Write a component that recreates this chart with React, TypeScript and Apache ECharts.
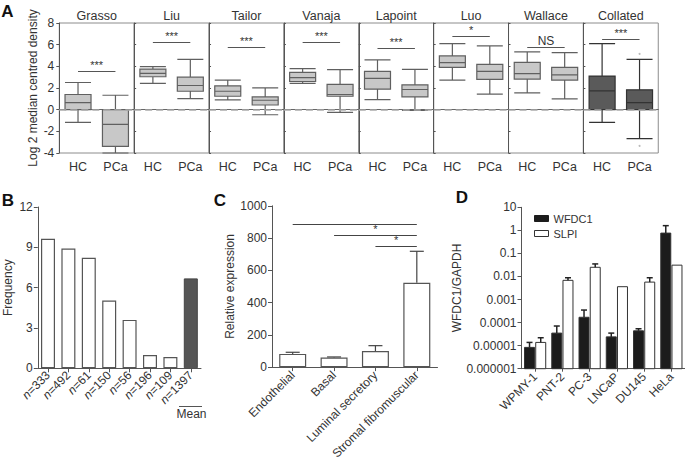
import React, { useEffect, useRef } from 'react';
import * as echarts from 'echarts';

// ---------- DATA ----------
// Panel A
const studies = ['Grasso', 'Liu', 'Tailor', 'Vanaja', 'Lapoint', 'Luo', 'Wallace', 'Collated'];
const groups = ['HC', 'PCa'];
// [min, Q1, median, Q3, max]
const hcBoxes = [
  [-1.18, 0, 0.65, 1.4, 2.51],
  [2.42, 3.04, 3.35, 3.75, 3.97],
  [0.9, 1.24, 1.7, 2.2, 2.73],
  [2.42, 2.6, 2.95, 3.44, 3.78],
  [0.93, 1.89, 2.88, 3.53, 4.59],
  [2.73, 3.9, 4.34, 4.96, 6.1],
  [1.55, 2.82, 3.32, 4.37, 5.33],
  [-1.18, 0, 1.74, 3.1, 6.1],
];
const pcaBoxes = [
  [-4.0, -3.38, -1.36, 0, 1.33],
  [1.02, 1.7, 2.23, 3.0, 4.65],
  [-0.47, 0.43, 0.87, 1.18, 2.02],
  [-0.25, 1.24, 1.4, 2.33, 3.69],
  [-0.06, 1.18, 1.86, 2.29, 3.72],
  [1.43, 2.79, 3.53, 4.19, 5.89],
  [0.99, 2.73, 3.22, 3.91, 5.27],
  [-2.67, 0, 0.65, 1.83, 4.65],
];
const sigLabels = ['***', '***', '***', '***', '***', '*', 'NS', '***'];
const sigLevels = [3.53, 6.2, 5.74, 6.2, 5.67, 6.76, 5.77, 6.51];
const collatedOutliers = [5.15, -3.35];

// Panel B
const sampleSizes = ['333', '492', '61', '150', '56', '196', '109', '1397'];
const frequencies = [9.63, 8.91, 8.22, 5.04, 3.6, 0.99, 0.84, 6.69];

// Panel C
const cellTypes = ['Endothelial', 'Basal', 'Luminal secretory', 'Stromal fibromuscular'];
const relExpression = [82, 59, 100, 523];
const relExpressionUpper = [92, 63, 133, 718];
const cSigLines = [
  { from: 'Endothelial', level: 885, label: '' },
  { from: 'Basal', level: 816, label: '*' },
  { from: 'Luminal secretory', level: 748, label: '*' },
];

// Panel D
const cellLines = ['WPMY-1', 'PNT-2', 'PC-3', 'LNCaP', 'DU145', 'HeLa'];
const wfdc1 = [8.4e-6, 3.5e-5, 1.7e-4, 2.4e-5, 4.4e-5, 0.76];
const wfdc1Upper = [1.38e-5, 7.1e-5, 3.5e-4, 3.5e-5, 5.4e-5, 1.6];
const slpi = [1.38e-5, 6.8e-3, 2.5e-2, 3.6e-3, 5.7e-3, 3.1e-2];
const slpiUpper = [2.2e-5, 8.8e-3, 3.5e-2, 3.6e-3, 8.8e-3, 3.1e-2];

// ---------- STYLE ----------
const FONT = '"Liberation Sans", Arial, Helvetica, sans-serif';
const TXT = '#333';
const AXIS = '#555';

function buildOption() {
  const grid: any[] = [];
  const xAxis: any[] = [];
  const yAxis: any[] = [];
  const series: any[] = [];
  const graphic: any[] = [];

  const aLeft = 59.3, aW = 74.87, aTop = 23, aH = 130;

  studies.forEach((name, i) => {
    const collated = i === studies.length - 1;
    grid.push({ left: aLeft + i * aW, top: aTop, width: aW, height: aH, show: true, borderColor: '#8c8c8c', borderWidth: 1 });
    xAxis.push({
      gridIndex: i, type: 'category', data: groups,
      axisLine: { show: true, lineStyle: { color: '#666' } },
      axisTick: { show: false },
      axisLabel: { fontSize: 12.5, color: TXT, fontFamily: FONT, margin: 7 },
    });
    yAxis.push({
      gridIndex: i, type: 'value', min: -4, max: 8, interval: 2,
      axisLine: { show: true, lineStyle: { color: AXIS } },
      axisTick: { show: true, inside: i > 0, length: i > 0 ? 2 : 3, lineStyle: { color: AXIS } },
      axisLabel: { show: i === 0, fontSize: 12, color: TXT, fontFamily: FONT, margin: 5 },
      splitLine: { show: false },
      name: i === 0 ? 'Log 2 median centred density' : '',
      nameLocation: 'middle', nameGap: 20,
      nameTextStyle: { fontSize: 12, color: TXT, fontFamily: FONT },
    });
    series.push({
      type: 'boxplot', xAxisIndex: i, yAxisIndex: i,
      data: [hcBoxes[i], pcaBoxes[i]],
      boxWidth: [26, 26],
      itemStyle: collated
        ? { color: '#5a5a5a', borderColor: '#333', borderWidth: 1.2 }
        : { color: '#c8c8c8', borderColor: '#606060', borderWidth: 1.2 },
      markLine: {
        silent: true, symbol: ['none', 'none'], animation: false,
        data: [
          { yAxis: 0, lineStyle: { type: [7, 4], color: '#aaa', width: 1.5 }, label: { show: false } },
          [
            {
              coord: ['HC', sigLevels[i]],
              lineStyle: { type: 'solid', color: '#555', width: 1 },
              label: {
                show: true, position: 'insideMiddleTop', distance: sigLabels[i] === 'NS' ? 0 : 1,
                formatter: sigLabels[i], color: TXT, fontFamily: FONT,
                fontSize: sigLabels[i] === 'NS' ? 12 : 11,
              },
            },
            { coord: ['PCa', sigLevels[i]] },
          ],
        ],
      },
    });
    if (collated) {
      series.push({
        type: 'scatter', xAxisIndex: i, yAxisIndex: i,
        data: collatedOutliers.map((v) => ['PCa', v]),
        symbolSize: 2, itemStyle: { color: '#aaa' },
      });
    }
    graphic.push({
      type: 'text', x: aLeft + (i + 0.5) * aW, y: 15.5,
      style: { text: name, fontSize: 12.5, fontFamily: FONT, fill: TXT, align: 'center', verticalAlign: 'middle', textAlign: 'center', textVerticalAlign: 'middle' },
    });
  });

  // ----- Panel B -----
  const bi = grid.length;
  grid.push({ left: 37.8, top: 207, width: 163.2, height: 161.3 });
  xAxis.push({
    gridIndex: bi, type: 'category', data: sampleSizes,
    axisLine: { show: true, lineStyle: { color: AXIS } },
    axisTick: { show: true, alignWithLabel: true, length: 4, lineStyle: { color: AXIS } },
    axisLabel: {
      rotate: 45, margin: 5, fontSize: 12, color: TXT, fontFamily: FONT, interval: 0,
      formatter: (v: string) => `{i|n}{r|=${v}}`,
      rich: {
        i: { fontStyle: 'italic', fontSize: 12, color: TXT, fontFamily: FONT },
        r: { fontSize: 12, color: TXT, fontFamily: FONT },
      },
    },
  });
  yAxis.push({
    gridIndex: bi, type: 'value', min: 0, max: 12, interval: 3,
    axisLine: { show: true, lineStyle: { color: AXIS } },
    axisTick: { show: true, length: 4, lineStyle: { color: AXIS } },
    axisLabel: { fontSize: 12, color: TXT, fontFamily: FONT, margin: 5 },
    splitLine: { show: false },
    name: 'Frequency', nameLocation: 'middle', nameGap: 24,
    nameTextStyle: { fontSize: 12, color: TXT, fontFamily: FONT },
  });
  series.push({
    type: 'bar', xAxisIndex: bi, yAxisIndex: bi, barWidth: 14,
    data: frequencies.map((v, k) => ({
      value: v,
      itemStyle: k === frequencies.length - 1
        ? { color: '#555', borderColor: '#444', borderWidth: 1 }
        : { color: '#fff', borderColor: '#555', borderWidth: 1.2 },
    })),
  });
  graphic.push(
    { type: 'line', shape: { x1: 179, y1: 406.5, x2: 202, y2: 406.5 }, style: { stroke: '#555', lineWidth: 1 } },
    { type: 'text', x: 191.5, y: 414, style: { text: 'Mean', fontSize: 12, fontFamily: FONT, fill: TXT, align: 'center', verticalAlign: 'middle', textAlign: 'center', textVerticalAlign: 'middle' } },
  );

  // ----- Panel C -----
  const ci = grid.length;
  grid.push({ left: 272, top: 205.8, width: 165.5, height: 162.9 });
  xAxis.push({
    gridIndex: ci, type: 'category', data: cellTypes,
    axisLine: { show: true, lineStyle: { color: AXIS } },
    axisTick: { show: true, alignWithLabel: true, length: 4, lineStyle: { color: AXIS } },
    axisLabel: { rotate: 45, margin: 6, fontSize: 12, color: TXT, fontFamily: FONT, interval: 0 },
  });
  yAxis.push({
    gridIndex: ci, type: 'value', min: 0, max: 1000, interval: 200,
    axisLine: { show: true, lineStyle: { color: AXIS } },
    axisTick: { show: true, length: 4, lineStyle: { color: AXIS } },
    axisLabel: { fontSize: 12, color: TXT, fontFamily: FONT, margin: 5, formatter: (v: number) => String(v) },
    splitLine: { show: false },
    name: 'Relative expression', nameLocation: 'middle', nameGap: 36,
    nameTextStyle: { fontSize: 12, color: TXT, fontFamily: FONT },
  });
  series.push({
    type: 'bar', xAxisIndex: ci, yAxisIndex: ci, barWidth: 27,
    itemStyle: { color: '#fff', borderColor: '#555', borderWidth: 1.2 },
    data: relExpression,
    markLine: {
      silent: true, symbol: ['none', 'none'], animation: false,
      data: cSigLines.map((s) => [
        {
          coord: [s.from, s.level],
          lineStyle: { type: 'solid', color: '#444', width: 1 },
          label: { show: s.label !== '', position: 'insideMiddleTop', distance: 1, formatter: s.label || ' ', color: TXT, fontSize: 11, fontFamily: FONT },
        },
        { coord: ['Stromal fibromuscular', s.level] },
      ]),
    },
  });
  series.push({
    type: 'custom', xAxisIndex: ci, yAxisIndex: ci,
    data: cellTypes.map((_, k) => [k, relExpression[k], relExpressionUpper[k]]),
    encode: { x: 0, y: 1 },
    renderItem: (params: any, api: any) => {
      const k = api.value(0), v = api.value(1), e = api.value(2);
      const p0 = api.coord([k, v]);
      const p1 = api.coord([k, e]);
      const cap = 7;
      return {
        type: 'group',
        children: [
          { type: 'line', shape: { x1: p0[0], y1: p0[1], x2: p1[0], y2: p1[1] }, style: { stroke: '#444', lineWidth: 1.2 } },
          { type: 'line', shape: { x1: p1[0] - cap, y1: p1[1], x2: p1[0] + cap, y2: p1[1] }, style: { stroke: '#444', lineWidth: 1.2 } },
        ],
      };
    },
  });

  // ----- Panel D -----
  const di = grid.length;
  grid.push({ left: 521.5, top: 207.3, width: 164, height: 161.4 });
  xAxis.push({
    gridIndex: di, type: 'category', data: cellLines,
    axisLine: { show: true, lineStyle: { color: AXIS } },
    axisTick: { show: true, alignWithLabel: true, length: 3, lineStyle: { color: AXIS } },
    axisLabel: { rotate: 45, margin: 6, fontSize: 12, color: TXT, fontFamily: FONT, interval: 0 },
  });
  yAxis.push({
    gridIndex: di, type: 'log', logBase: 10, min: 1e-6, max: 10,
    axisLine: { show: true, lineStyle: { color: AXIS } },
    axisTick: { show: true, length: 4, lineStyle: { color: AXIS } },
    minorTick: { show: false },
    axisLabel: {
      fontSize: 12, color: TXT, fontFamily: FONT, margin: 5,
      formatter: (v: number) => {
        const e = Math.round(Math.log10(v));
        if (e >= 0) return String(Math.pow(10, e));
        return '0.' + '0'.repeat(-e - 1) + '1';
      },
    },
    splitLine: { show: false },
    name: 'WFDC1/GAPDH', nameLocation: 'middle', nameGap: 52,
    nameTextStyle: { fontSize: 12, color: TXT, fontFamily: FONT },
  });
  const makeLogBars = (name: string, vals: number[], upper: number[], offset: number, fill: string) => ({
    type: 'custom', name, xAxisIndex: di, yAxisIndex: di,
    itemStyle: { color: fill, borderColor: '#333', borderWidth: 1 },
    data: cellLines.map((_, k) => [k, vals[k], upper[k]]),
    encode: { x: 0, y: 1 },
    renderItem: (params: any, api: any) => {
      const k = api.value(0), v = api.value(1), e = api.value(2);
      const base = api.coord([k, 1e-6]);
      const top = api.coord([k, v]);
      const err = api.coord([k, e]);
      const w = 10;
      const cx = base[0] + offset;
      const children: any[] = [
        { type: 'rect', shape: { x: cx - w / 2, y: top[1], width: w, height: base[1] - top[1] }, style: { fill, stroke: '#333', lineWidth: 1 } },
      ];
      if (e > v * 1.05) {
        children.push(
          { type: 'line', shape: { x1: cx, y1: top[1], x2: cx, y2: err[1] }, style: { stroke: '#222', lineWidth: 1.5 } },
          { type: 'line', shape: { x1: cx - 3, y1: err[1], x2: cx + 3, y2: err[1] }, style: { stroke: '#222', lineWidth: 1.5 } },
        );
      }
      return { type: 'group', children };
    },
  });
  series.push(makeLogBars('WFDC1', wfdc1, wfdc1Upper, -5.6, '#1c1c1c'));
  series.push(makeLogBars('SLPI', slpi, slpiUpper, 5.6, '#ffffff'));

  // Panel letters
  const letters = [
    { t: 'A', x: 7.5, y: 11 },
    { t: 'B', x: 8, y: 200 },
    { t: 'C', x: 220, y: 200 },
    { t: 'D', x: 462, y: 197 },
  ];
  letters.forEach((l) =>
    graphic.push({
      type: 'text', x: l.x, y: l.y,
      style: { text: l.t, fontSize: 17, fontWeight: 'bold', fontFamily: FONT, fill: '#111', align: 'center', verticalAlign: 'middle', textAlign: 'center', textVerticalAlign: 'middle' },
    }),
  );

  return {
    animation: false,
    backgroundColor: '#fff',
    textStyle: { fontFamily: FONT },
    grid, xAxis, yAxis, series, graphic,
    legend: {
      left: 529, top: 208, orient: 'vertical', itemWidth: 14, itemHeight: 6, itemGap: 4,
      textStyle: { fontSize: 11, color: TXT, fontFamily: FONT },
      data: [
        { name: 'WFDC1', icon: 'rect', itemStyle: { color: '#1c1c1c', borderColor: '#1c1c1c', borderWidth: 1 } },
        { name: 'SLPI', icon: 'rect', itemStyle: { color: '#fff', borderColor: '#333', borderWidth: 1 } },
      ],
      selectedMode: false,
    },
  };
}

export default function App() {
  const ref = useRef<HTMLDivElement>(null);
  useEffect(() => {
    if (!ref.current) return;
    const chart = echarts.init(ref.current, undefined, { renderer: 'svg' });
    chart.setOption(buildOption() as any);
    return () => chart.dispose();
  }, []);
  return (
    <div
      ref={ref}
      style={{ position: 'fixed', left: 0, top: 0, width: 685, height: 462, background: '#fff' }}
    />
  );
}
